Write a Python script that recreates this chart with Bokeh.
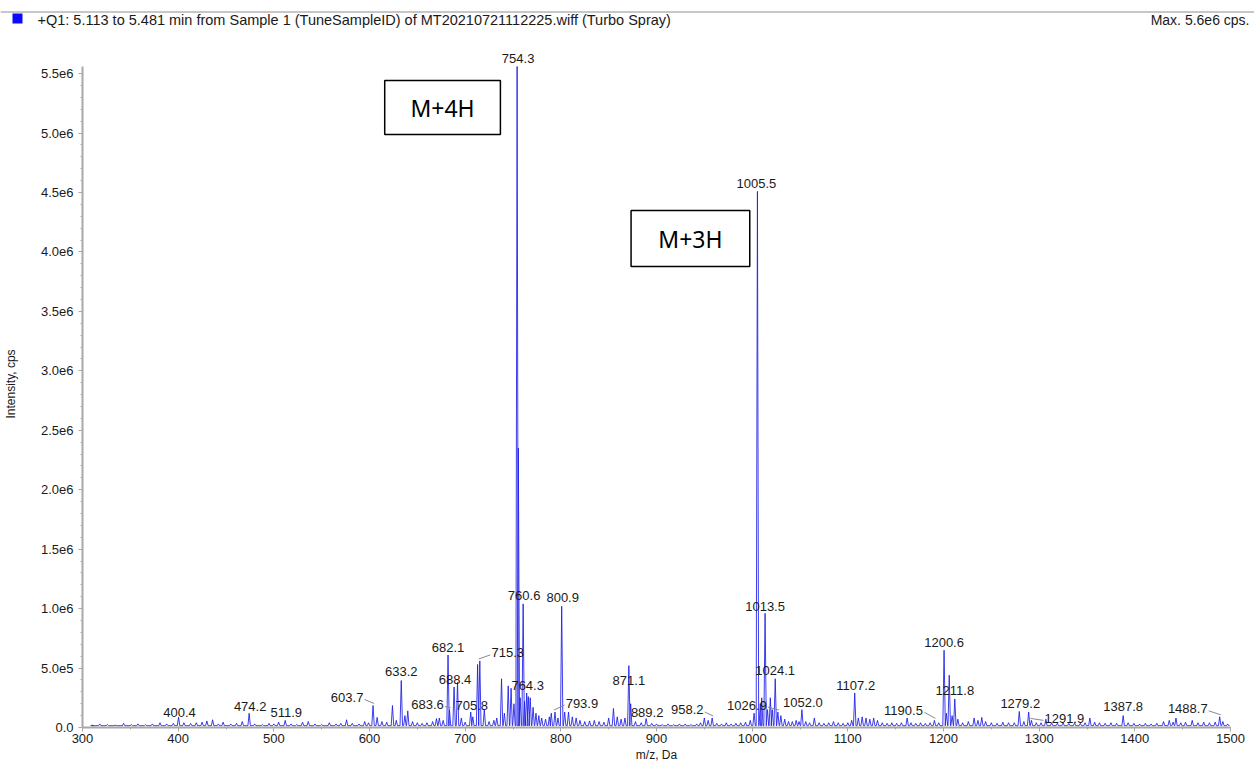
from bokeh.plotting import figure
from bokeh.layouts import column
from bokeh.models import (ColumnDataSource, LabelSet, Label, BoxAnnotation, FixedTicker)
from bokeh.core.properties import value
from bokeh.embed import file_html
from bokeh.resources import INLINE

# ---------------- data ----------------
peak_mz = [310, 318, 326, 334, 343, 351, 358, 366, 373, 381, 388, 395, 400.4, 406, 413,
           419, 425, 430, 436, 442, 447, 455, 461, 467, 474.2, 480, 488, 495, 500, 505,
           511.9, 518, 524, 530, 536, 543, 550, 558, 565, 570, 576, 582, 589, 595, 599,
           603.7, 608, 613, 618, 624, 628, 633.2, 637, 640, 645, 650, 655, 660, 666, 670,
           673, 677, 682.1, 683.6, 688.4, 692, 696, 700, 705.8, 708, 713, 715.3, 720, 725,
           730, 733, 738, 741, 745, 748, 751, 754.3, 755.6, 757.5, 760.6, 762, 764.3, 766,
           768, 771, 774, 777, 780, 784, 788, 790, 793.9, 797, 800.9, 804, 808, 812, 816,
           820, 825, 830, 835, 840, 845, 850, 855, 859, 863, 867, 871.1, 873, 878, 884,
           889.2, 895, 900, 906, 912, 918, 924, 930, 936, 942, 946, 950, 954, 958.2, 963,
           968, 973, 978, 983, 988, 993, 998, 1002, 1005.5, 1008.5, 1010, 1013.5, 1016,
           1019, 1021, 1024.1, 1026.9, 1030, 1034, 1038, 1042, 1046, 1049, 1052.0, 1056,
           1060, 1065, 1070, 1075, 1080, 1085, 1090, 1095, 1100, 1104, 1107.2, 1111, 1115,
           1119, 1123, 1127, 1131, 1136, 1141, 1146, 1151, 1156, 1162, 1166, 1171, 1176,
           1181, 1186, 1190.5, 1195, 1200.6, 1203, 1206, 1209, 1211.8, 1215, 1220, 1226,
           1232, 1236, 1240, 1244, 1250, 1256, 1262, 1268, 1274, 1279.2, 1284, 1289,
           1291.9, 1297, 1302, 1307, 1313, 1319, 1325, 1331, 1337, 1343, 1348, 1353, 1358,
           1363, 1369, 1375, 1381, 1387.8, 1393, 1399, 1405, 1411, 1417, 1423, 1430, 1436,
           1440, 1443, 1448, 1453, 1460, 1466, 1472, 1478, 1484, 1488.7, 1492, 1497]
peak_int = [2.0e4, 3.0e4, 2.5e4, 2.0e4, 3.5e4, 2.5e4, 3.0e4, 2.5e4, 3.0e4, 4.0e4, 3.0e4, 3.5e4, 8.7e4, 4.0e4, 3.5e4,
            4.0e4, 4.5e4, 5.5e4, 6.5e4, 3.0e4, 4.5e4, 3.0e4, 3.5e4, 5.0e4, 1.2e5, 3.0e4, 2.5e4, 3.5e4, 3.0e4, 4.5e4,
            6.0e4, 3.0e4, 2.5e4, 4.5e4, 5.0e4, 3.0e4, 2.5e4, 4.0e4, 3.0e4, 3.5e4, 6.5e4, 3.5e4, 3.0e4, 5.0e4, 4.0e4,
            1.85e5, 8.5e4, 5.0e4, 4.5e4, 1.85e5, 6.0e4, 3.95e5, 1.0e5, 1.4e5, 5.0e4, 4.0e4, 3.5e4, 4.0e4, 5.0e4, 7.5e4,
            8.0e4, 6.0e4, 6.1e5, 1.5e5, 3.4e5, 3.8e5, 8.0e4, 4.5e4, 1.3e5, 9.0e4, 5.3e5, 5.6e5, 1.5e5, 5.0e4,
            6.0e4, 8.0e4, 4.1e5, 1.2e5, 3.5e5, 3.3e5, 2.0e5, 5.56e6, 2.35e6, 2.5e5, 1.04e6, 2.2e5, 2.9e5, 2.6e5,
            2.5e5, 1.7e5, 1.2e5, 1.0e5, 8.0e4, 7.0e4, 9.0e4, 1.2e5, 1.3e5, 8.0e4, 1.02e6, 1.3e5, 1.3e5, 9.0e4, 8.0e4,
            6.0e4, 5.0e4, 5.5e4, 6.0e4, 5.0e4, 4.5e4, 8.0e4, 1.6e5, 9.0e4, 7.0e4, 8.0e4, 5.2e5, 2.0e5, 5.0e4, 4.0e4,
            7.5e4, 3.5e4, 3.0e4, 2.5e4, 3.0e4, 2.5e4, 3.0e4, 3.0e4, 2.5e4, 3.0e4, 4.0e4, 8.0e4, 6.0e4, 8.0e4, 3.5e4,
            3.0e4, 4.0e4, 3.0e4, 3.5e4, 4.0e4, 4.5e4, 6.0e4, 1.2e5, 4.51e6, 2.0e5, 2.5e5, 9.6e5, 1.5e5,
            2.5e5, 1.5e5, 4.1e5, 1.3e5, 1.0e5, 7.0e4, 5.0e4, 5.0e4, 6.0e4, 5.0e4, 1.5e5, 5.0e4,
            4.0e4, 8.0e4, 4.0e4, 3.5e4, 4.0e4, 5.0e4, 4.0e4, 3.5e4, 4.0e4, 6.0e4, 2.9e5, 8.0e4, 9.0e4,
            8.0e4, 7.0e4, 8.0e4, 6.0e4, 4.0e4, 3.5e4, 4.0e4, 3.5e4, 4.0e4, 8.0e4, 4.0e4, 3.5e4, 4.0e4,
            3.5e4, 4.0e4, 6.0e4, 4.0e4, 6.5e5, 1.2e5, 4.4e5, 1.0e5, 2.4e5, 7.0e4, 4.0e4, 5.0e4,
            8.0e4, 6.0e4, 8.5e4, 5.0e4, 4.0e4, 3.5e4, 4.5e4, 4.0e4, 4.0e4, 1.35e5, 5.0e4, 1.3e5,
            6.0e4, 4.0e4, 4.0e4, 7.0e4, 4.0e4, 3.5e4, 4.0e4, 3.5e4, 4.0e4, 3.5e4, 4.0e4, 8.0e4, 4.5e4,
            4.0e4, 3.5e4, 4.0e4, 3.5e4, 1.0e5, 4.0e4, 3.5e4, 3.0e4, 3.5e4, 3.0e4, 3.5e4, 5.0e4, 6.0e4,
            4.5e4, 8.0e4, 4.0e4, 4.5e4, 6.0e4, 4.0e4, 4.5e4, 4.0e4, 4.5e4, 9.0e4, 5.0e4, 3.0e4]

label_mz = [400.4, 474.2, 511.9, 603.7, 633.2, 682.1, 683.6, 688.4, 705.8, 715.3, 754.3,
            760.6, 764.3, 793.9, 800.9, 871.1, 889.2, 958.2, 1005.5, 1013.5, 1024.1, 1026.9,
            1052.0, 1107.2, 1190.5, 1200.6, 1211.8, 1279.2, 1291.9, 1387.8, 1488.7]
# label centre offsets from the peak apex, in screen pixels (dx right, dy down)
label_dx = [1, 1, 1, -26, 0, 0, -22, 1, 1, 28, 1, 1, 1, 27, 1, 0, 1, -25, -1, 0, 0, -31,
            1, 1, -31, 0, 0, 1, 33, 0, -32]
label_dy = [-5, -7, -8, -8, -9, -7, -5, -8, -7, -8, -8, -8, -8, -9, -9, 15, -6, -8, -8, -7, -8, -7,
            -7, -8, -10, -8, -8, -8, -2, -9, -8]
leader_mz = [603.7, 683.6, 715.3, 793.9, 958.2, 1026.9, 1190.5, 1291.9, 1488.7]

x_ticks = [300, 400, 500, 600, 700, 800, 900, 1000, 1100, 1200, 1300, 1400, 1500]
y_ticks = [0, 500000, 1000000, 1500000, 2000000, 2500000, 3000000, 3500000, 4000000,
           4500000, 5000000, 5500000]
y_tick_labels = ["0.0", "5.0e5", "1.0e6", "1.5e6", "2.0e6", "2.5e6", "3.0e6", "3.5e6",
                 "4.0e6", "4.5e6", "5.0e6", "5.5e6"]

header_text = "+Q1: 5.113 to 5.481 min from Sample 1 (TuneSampleID) of MT20210721112225.wiff (Turbo Spray)"
max_text = "Max. 5.6e6 cps."

# ---------------- layout ----------------
W = 1254
HEAD_H, MAIN_H, FOOT_H = 30, 734, 2
LEFT, RIGHT = 79, 24
FRAME_TOP_PAGE, AXIS_PAGE = 40, 727          # page y of frame top and of the x axis
TOP = FRAME_TOP_PAGE - HEAD_H
BOTTOM = HEAD_H + MAIN_H - AXIS_PAGE
X0, X1 = 300, 1500
Y0, YMAX = 0, 5.56e6
sx = (W - LEFT - RIGHT) / (X1 - X0)
sy = 661 / (YMAX - Y0)                          # px per intensity unit
Y1 = Y0 + (AXIS_PAGE - FRAME_TOP_PAGE) / sy

FONT = "Liberation Sans"
BLUE = "#1c1ce8"
TXT = "#1a1a1a"
AX = "#a8a8a8"


def X(px):
    return X0 + (px - LEFT) / sx


def Y(py):
    return Y0 + (AXIS_PAGE - py) / sy


# ---- header strip ----
hd = figure(width=W, height=HEAD_H, x_range=(0, W), y_range=(HEAD_H, 0),
            output_backend="svg", toolbar_location=None, min_border=0,
            x_axis_type=None, y_axis_type=None)
hd.frame_align = False
hd.outline_line_color = None
hd.grid.visible = False
hd.segment([0], [11.5], [W], [11.5], line_color="#b4b4b4", line_width=1.5)
hd.quad(left=[12], right=[22], top=[13], bottom=[23], fill_color="#0a0aff", line_color=None)
hd.text([37], [19.5], text=[header_text], text_font=value(FONT), text_font_size="14.5px",
        text_color=TXT, text_baseline="middle", text_align="left")
hd.text([1249], [19.5], text=[max_text], text_font=value(FONT), text_font_size="14px",
        text_color=TXT, text_baseline="middle", text_align="right")

# ---- main spectrum ----
p = figure(width=W, height=MAIN_H, x_range=(X0, X1), y_range=(Y0, Y1),
           output_backend="svg", toolbar_location=None,
           min_border_left=LEFT, min_border_right=RIGHT,
           min_border_top=TOP, min_border_bottom=BOTTOM)
p.frame_align = False
p.outline_line_color = None
p.grid.visible = False

base = 1.5e4
w = 1.3
pairs = sorted(zip(peak_mz, peak_int))
xs, ys = [312], [base]
for m, h in pairs:
    xs += [m - w, m, m + w]
    ys += [base, h, base]
xs.append(1499)
ys.append(base)
p.line(xs, ys, line_color=BLUE, line_width=1, line_alpha=0.85)

inten = dict(zip(peak_mz, peak_int))
lx, ly, lt = [], [], []
for m, dx, dy in zip(label_mz, label_dx, label_dy):
    h = inten[m]
    lx.append(m + dx / sx)
    ly.append(h - dy / sy)
    lt.append("%.1f" % m)
src = ColumnDataSource(dict(x=lx, y=ly, text=lt))
p.add_layout(LabelSet(x="x", y="y", text="text", source=src,
                      text_font=value(FONT), text_font_size=value("13px"), text_color=TXT,
                      text_align="center", text_baseline="middle"))

x0s, y0s, x1s, y1s = [], [], [], []
for m in leader_mz:
    i = label_mz.index(m)
    dx, dy = label_dx[i], label_dy[i]
    h = inten[m]
    half = len("%.1f" % m) * 3.5
    sgn = -1 if dx < 0 else 1
    sxp = dx - sgn * half
    x0s.append(m + sxp / sx)
    y0s.append(h - (dy + 2) / sy)
    x1s.append(m - sgn * 1 / sx)
    y1s.append(h + 2 / sy)
p.segment(x0s, y0s, x1s, y1s, line_color="#8a8a8a", line_width=1)

xa = p.xaxis[0]
xa.ticker = FixedTicker(ticks=x_ticks, minor_ticks=list(range(300, 1501, 50)))
xa.axis_label = "m/z, Da"
ya = p.yaxis[0]
ya.ticker = FixedTicker(ticks=y_ticks, minor_ticks=list(range(0, 5500001, 100000)))
ya.major_label_overrides = {t: s for t, s in zip(y_ticks, y_tick_labels)}
ya.axis_label = "Intensity, cps"
ya.bounds = (Y0, YMAX)
for ax in (xa, ya):
    ax.axis_line_color = AX
    ax.axis_line_width = 2
    ax.major_tick_line_color = AX
    ax.minor_tick_line_color = AX
    ax.major_tick_in = 0
    ax.minor_tick_in = 0
    ax.major_tick_out = 4
    ax.minor_tick_out = 2
    ax.major_label_text_font = FONT
    ax.major_label_text_font_size = "13px"
    ax.major_label_text_color = TXT
    ax.axis_label_text_font = FONT
    ax.axis_label_text_font_size = "12px"
    ax.axis_label_text_font_style = "normal"
    ax.axis_label_text_color = TXT
xa.major_label_standoff = 2
xa.axis_label_standoff = 2
ya.major_label_standoff = 5
ya.axis_label_standoff = 20

p.add_layout(BoxAnnotation(left=X(382), right=X(498), top=Y(80), bottom=Y(134),
                           fill_alpha=0, line_color="black", line_width=1.5, line_alpha=1))
p.add_layout(Label(x=X(440), y=Y(107), text="M+4H", text_font="Noto Sans",
                   text_font_size="23px", text_color="black", text_align="center",
                   text_baseline="middle"))
p.add_layout(BoxAnnotation(left=X(629), right=X(748), top=Y(210), bottom=Y(266),
                           fill_alpha=0, line_color="black", line_width=1.5, line_alpha=1))
p.add_layout(Label(x=X(688.5), y=Y(238), text="M+3H", text_font="Noto Sans",
                   text_font_size="23px", text_color="black", text_align="center",
                   text_baseline="middle"))

# ---- footer rule ----
ft = figure(width=W, height=FOOT_H, output_backend="svg", toolbar_location=None,
            min_border=0, x_axis_type=None, y_axis_type=None)
ft.frame_align = False
ft.outline_line_color = None
ft.grid.visible = False
ft.background_fill_color = "#c0c0c0"
ft.border_fill_color = "#c0c0c0"

layout = column(hd, p, ft, spacing=0)
open("out.html", "w").write(file_html(layout, INLINE))
